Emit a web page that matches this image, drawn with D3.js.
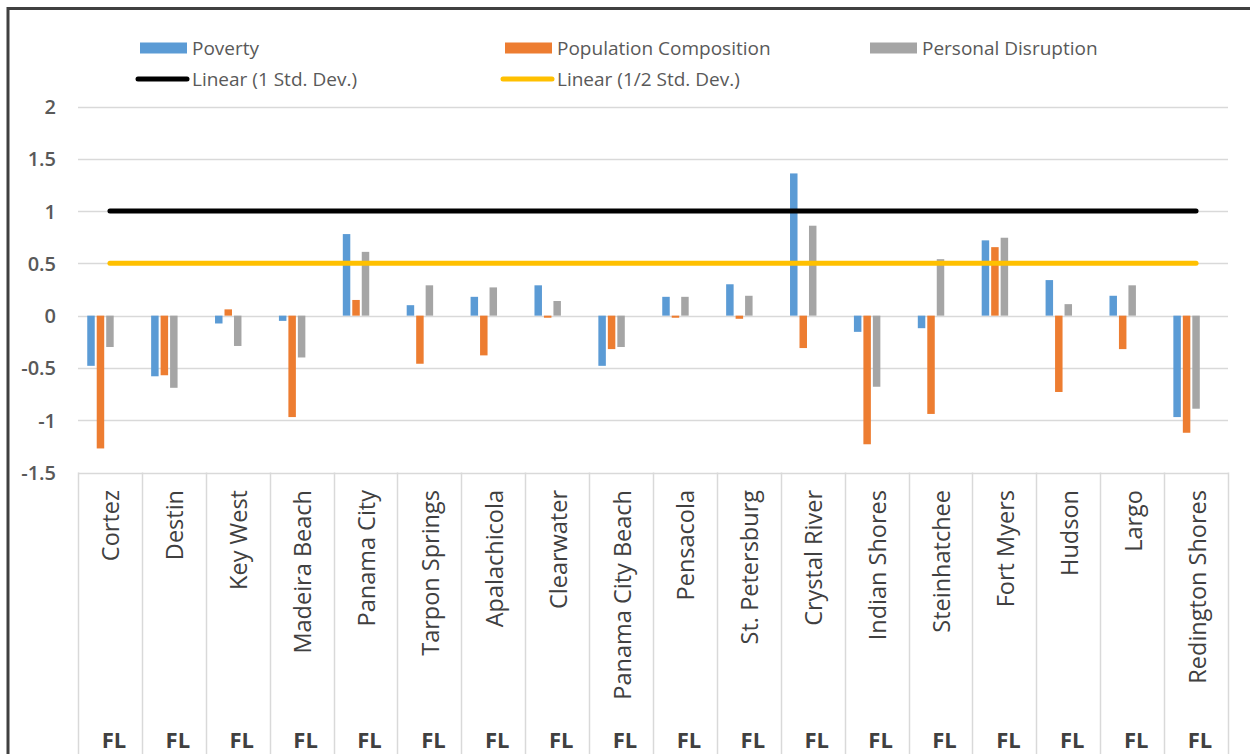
<!DOCTYPE html>
<html>
<head>
<meta charset="utf-8">
<script src="https://cdn.jsdelivr.net/npm/d3@7"></script>
<style>
  html, body { margin: 0; padding: 0; background: #fff; }
  svg { display: block; }
</style>
</head>
<body>
<svg id="chart" width="1250" height="754"></svg>
<script>
// ---- data ----
const cities = ["Cortez","Destin","Key West","Madeira Beach","Panama City","Tarpon Springs","Apalachicola","Clearwater","Panama City Beach","Pensacola","St. Petersburg","Crystal River","Indian Shores","Steinhatchee","Fort Myers","Hudson","Largo","Redington Shores"];
const state = "FL";
const poverty = [-0.48,-0.58,-0.075,-0.05,0.78,0.10,0.18,0.29,-0.48,0.18,0.30,1.36,-0.155,-0.12,0.72,0.34,0.19,-0.97];
const populationComposition = [-1.27,-0.57,0.06,-0.97,0.15,-0.46,-0.38,-0.02,-0.32,-0.02,-0.03,-0.31,-1.23,-0.94,0.655,-0.73,-0.32,-1.12];
const personalDisruption = [-0.30,-0.69,-0.29,-0.40,0.61,0.29,0.27,0.14,-0.30,0.18,0.19,0.86,-0.68,0.54,0.745,0.11,0.29,-0.89];
const oneStdDev = 1;
const halfStdDev = 0.5;
const yTicks = [2,1.5,1,0.5,0,-0.5,-1,-1.5];
const seriesNames = ["Poverty","Population Composition","Personal Disruption","Linear (1 Std. Dev.)","Linear (1/2 Std. Dev.)"];
const colors = ["#5B9BD5","#ED7D31","#A5A5A5","#000000","#FFC000"];

// ---- layout ----
const svg = d3.select("#chart");
const plotL = 78, plotR = 1228;
const x0 = d3.scaleBand().domain(cities).range([plotL, plotR]).padding(0);
const y = d3.scaleLinear().domain([-1.5, 2]).range([472.5, 106.5]);
const slotKeys = ["p","c","d","s1","s2"];
const bw = x0.bandwidth();
const x1 = d3.scaleBand().domain(slotKeys).range([9.25, bw - 9.25]).paddingInner(0.21).paddingOuter(0);

// frame
svg.append("line").attr("x1",7).attr("x2",1250).attr("y1",8.5).attr("y2",8.5).attr("stroke","#404040").attr("stroke-width",3);
svg.append("line").attr("x1",8).attr("x2",8).attr("y1",7).attr("y2",754).attr("stroke","#404040").attr("stroke-width",3);

// gridlines
const grid = svg.append("g");
yTicks.forEach(t => {
  grid.append("line").attr("x1",plotL).attr("x2",plotR)
    .attr("y1",Math.round(y(t))+0.5).attr("y2",Math.round(y(t))+0.5)
    .attr("stroke","#D9D9D9").attr("stroke-width",1.5);
});

// y axis labels
const yAxis = d3.axisLeft(y).tickValues(yTicks).tickSize(0).tickPadding(0).tickFormat(d => String(d));
const ya = svg.append("g").attr("transform",`translate(56,0)`).call(yAxis);
ya.select(".domain").remove();
ya.selectAll("text").attr("font-family","'Open Sans', sans-serif").attr("font-size",20).attr("font-weight",600).attr("fill","#595959").attr("dy","0.35em");

// category separators
const seps = cities.map((c,i)=>x0(c)).concat([plotR]);
svg.append("g").selectAll("line").data(seps).join("line")
  .attr("x1",d=>Math.round(d)+0.5).attr("x2",d=>Math.round(d)+0.5)
  .attr("y1",y(-1.5)).attr("y2",754)
  .attr("stroke","#D9D9D9").attr("stroke-width",1.5);

// city labels
svg.append("g").selectAll("text").data(cities).join("text")
  .attr("transform", d => `translate(${x0(d)+bw/2+1},490) rotate(-90)`)
  .attr("text-anchor","end").attr("dy","0.36em")
  .attr("font-family","'Open Sans', sans-serif").attr("font-size",23.5).attr("fill","#404040")
  .text(d=>d);

// state labels
svg.append("g").selectAll("text").data(cities).join("text")
  .attr("x", d => x0(d)+bw/2+4).attr("y",748)
  .attr("text-anchor","middle")
  .attr("font-family","'Open Sans', sans-serif").attr("font-size",22).attr("font-weight",700).attr("fill","#404040")
  .text(state);

// bars
const series = [poverty, populationComposition, personalDisruption];
series.forEach((vals, si) => {
  svg.append("g").selectAll("rect").data(vals).join("rect")
    .attr("x",(d,i)=>x0(cities[i]) + x1(slotKeys[si]))
    .attr("width",x1.bandwidth())
    .attr("y",d=>y(Math.max(0,d)))
    .attr("height",d=>Math.abs(y(d)-y(0)))
    .attr("fill",colors[si]);
});

// linear lines
const first = x0(cities[0]) + bw/2, last = x0(cities[cities.length-1]) + bw/2;
[[oneStdDev,colors[3]],[halfStdDev,colors[4]]].forEach(([v,c]) => {
  svg.append("line").attr("x1",first).attr("x2",last).attr("y1",y(v)).attr("y2",y(v))
    .attr("stroke",c).attr("stroke-width",5).attr("stroke-linecap","round");
});

// legend
const legendItems = [
  {name: seriesNames[0], color: colors[0], type:"rect", x:140, y:48},
  {name: seriesNames[1], color: colors[1], type:"rect", x:505, y:48},
  {name: seriesNames[2], color: colors[2], type:"rect", x:870, y:48},
  {name: seriesNames[3], color: colors[3], type:"line", x:140, y:79},
  {name: seriesNames[4], color: colors[4], type:"line", x:505, y:79}
];
const lg = svg.append("g");
legendItems.forEach(it => {
  if (it.type === "rect") {
    lg.append("rect").attr("x",it.x).attr("y",it.y-5.5).attr("width",47).attr("height",11).attr("fill",it.color);
  } else {
    lg.append("line").attr("x1",it.x-2).attr("x2",it.x+47).attr("y1",it.y).attr("y2",it.y)
      .attr("stroke",it.color).attr("stroke-width",5).attr("stroke-linecap","round");
  }
  lg.append("text").attr("x",it.x+52).attr("y",it.y).attr("dy","0.35em")
    .attr("font-family","'Open Sans', sans-serif").attr("font-size",19).attr("fill","#595959")
    .text(it.name);
});
</script>
</body>
</html>
